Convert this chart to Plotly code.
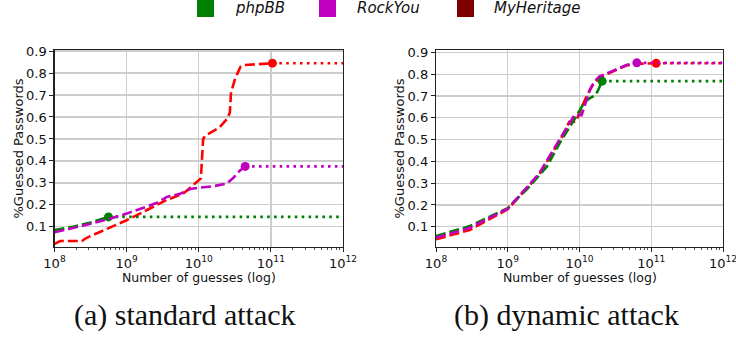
import plotly.graph_objects as go

# ---------------- data ----------------
# (a) standard attack
std_php_x = [1.0e8, 1.8e8, 3.2e8, 5.6e8]
std_php_y = [0.085, 0.100, 0.120, 0.145]
std_rock_x = [1.0e8, 1.8e8, 5.2e8, 1.0e9, 2.6e9, 3.6e9, 5.5e9, 7.6e9, 1.0e10, 1.6e10, 2.45e10, 3.0e10, 3.7e10, 4.4e10]
std_rock_y = [0.075, 0.094, 0.132, 0.160, 0.208, 0.236, 0.250, 0.272, 0.278, 0.285, 0.297, 0.322, 0.355, 0.375]
std_myh_x = [1.0e8, 1.2e8, 2.4e8, 2.8e8, 1.0e9, 3.6e9, 6.2e9, 9.3e9, 1.07e10, 1.15e10, 1.23e10, 1.95e10, 2.45e10,
             2.7e10, 2.8e10, 3.2e10, 3.8e10, 4.2e10, 1.05e11]
std_myh_y = [0.022, 0.035, 0.035, 0.050, 0.130, 0.222, 0.253, 0.300, 0.320, 0.500, 0.515, 0.553, 0.590,
             0.620, 0.710, 0.776, 0.829, 0.836, 0.845]

# (b) dynamic attack
dyn_php_x = [1.0e8, 2.95e8, 1.0e9, 1.9e9, 3.5e9, 5.6e9, 7.6e9, 9.5e9, 1.12e10, 1.18e10, 1.4e10, 1.6e10, 1.78e10, 2.07e10]
dyn_php_y = [0.057, 0.103, 0.185, 0.276, 0.375, 0.498, 0.567, 0.620, 0.658, 0.673, 0.690, 0.700, 0.720, 0.768]
dyn_rock_x = [1.0e8, 2.95e8, 1.0e9, 1.8e9, 2.75e9, 4.3e9, 5.9e9, 7.6e9, 8.5e9, 1.07e10, 1.2e10, 1.4e10, 1.6e10,
              1.9e10, 2.9e10, 4.5e10, 6.3e10]
dyn_rock_y = [0.050, 0.095, 0.183, 0.276, 0.345, 0.452, 0.528, 0.589, 0.612, 0.612, 0.660, 0.730, 0.765,
              0.790, 0.815, 0.842, 0.852]
dyn_myh_x = [1.0e8, 2.95e8, 1.0e9, 1.8e9, 2.75e9, 4.3e9, 5.9e9, 7.2e9, 8.9e9, 1.05e10, 1.26e10, 1.53e10,
             1.9e10, 2.9e10, 4.5e10, 6.3e10, 1.17e11]
dyn_myh_y = [0.042, 0.085, 0.180, 0.272, 0.340, 0.445, 0.522, 0.582, 0.582, 0.640, 0.700, 0.750,
             0.785, 0.812, 0.840, 0.848, 0.850]

x_end = 1.0e12
series_names = ["phpBB", "RockYou", "MyHeritage"]
legend_colors = ["#008000", "#bf00bf", "#800000"]
line_colors = {"phpBB": "#008000", "RockYou": "#bf00bf", "MyHeritage": "#ff0000"}
x_tick_vals = [1e8, 1e9, 1e10, 1e11, 1e12]
x_tick_text = ["10<sup>8</sup>", "10<sup>9</sup>", "10<sup>10</sup>", "10<sup>11</sup>", "10<sup>12</sup>"]
y_ticks = [0.1, 0.2, 0.3, 0.4, 0.5, 0.6, 0.7, 0.8, 0.9]
y_tick_text = ["0.1", "0.2", "0.3", "0.4", "0.5", "0.6", "0.7", "0.8", "0.9"]
captions = ["(a) standard attack", "(b) dynamic attack"]

# ---------------- figure ----------------
W, H = 736, 342

def px(x):
    return x / W

def py(y):
    return 1 - y / H

fig = go.Figure()

LW = 2.6
DASH = "10px,4px"
DOT = "2.6px,4.3px"

panels = [
    ("x", "y", [("MyHeritage", std_myh_x, std_myh_y), ("phpBB", std_php_x, std_php_y), ("RockYou", std_rock_x, std_rock_y)]),
    ("x2", "y2", [("MyHeritage", dyn_myh_x, dyn_myh_y), ("phpBB", dyn_php_x, dyn_php_y), ("RockYou", dyn_rock_x, dyn_rock_y)]),
]

for xa, ya, series in panels:
    for name, xs, ys in series:
        c = line_colors[name]
        fig.add_trace(go.Scatter(x=xs, y=ys, mode="lines", xaxis=xa, yaxis=ya,
                                 line=dict(color=c, width=LW, dash=DASH), showlegend=False, hoverinfo="skip"))
        fig.add_trace(go.Scatter(x=[xs[-1], x_end], y=[ys[-1], ys[-1]], mode="lines", xaxis=xa, yaxis=ya,
                                 line=dict(color=c, width=LW, dash=DOT), showlegend=False, hoverinfo="skip"))
        fig.add_trace(go.Scatter(x=[xs[-1]], y=[ys[-1]], mode="markers", xaxis=xa, yaxis=ya,
                                 marker=dict(color=c, size=9, line=dict(width=0)), showlegend=False, hoverinfo="skip"))

minor_vals = []
for e in range(8, 12):
    for m in range(2, 10):
        minor_vals.append(m * 10 ** e)

TICKFONT = dict(family="DejaVu Sans", size=13, color="#111")

def xaxis_cfg(domain, anchor):
    return dict(type="log", domain=domain, anchor=anchor, range=[8, 12],
                tickmode="array", tickvals=x_tick_vals, ticktext=x_tick_text, tickangle=0,
                ticklabeloverflow="allow",
                showgrid=True, gridcolor="#cccccc", gridwidth=1.3,
                showline=True, linecolor="#222", linewidth=1.2, mirror=True,
                ticks="outside", ticklen=4, tickwidth=1, tickcolor="#222",
                tickfont=TICKFONT, zeroline=False, automargin=False,
                minor=dict(tickmode="array", tickvals=minor_vals, ticks="outside", ticklen=2.2, tickwidth=0.8,
                           tickcolor="#222", showgrid=False))

def yaxis_cfg(domain, anchor, rng):
    return dict(domain=domain, anchor=anchor, range=rng, tickmode="array", tickvals=y_ticks,
                ticktext=y_tick_text, ticklabeloverflow="allow",
                showgrid=True, gridcolor="#cccccc", gridwidth=1.3,
                showline=True, linecolor="#222", linewidth=1.2, mirror=True,
                ticks="outside", ticklen=4, tickwidth=1, tickcolor="#222",
                tickfont=TICKFONT, zeroline=False, automargin=False)

ydom = [py(247), py(50)]
fig.update_layout(
    width=W, height=H, autosize=False,
    margin=dict(l=0, r=0, t=0, b=0, autoexpand=False),
    paper_bgcolor="white", plot_bgcolor="white",
    showlegend=False,
    xaxis=xaxis_cfg([px(54.5), px(343)], "y"),
    yaxis=yaxis_cfg(ydom, "x", [0.008, 0.905]),
    xaxis2=xaxis_cfg([px(436), px(723)], "y2"),
    yaxis2=yaxis_cfg(ydom, "x2", [0.007, 0.911]),
)

ann = []
ycen = py(148.5)
for xp in (18, 399):
    ann.append(dict(text="%Guessed Passwords", x=px(xp), y=ycen, xref="paper", yref="paper",
                    textangle=-90, showarrow=False, xanchor="center", yanchor="middle",
                    font=dict(family="DejaVu Sans", size=13, color="#111")))
for xp in (198.75, 580):
    ann.append(dict(text="Number of guesses (log)", x=px(xp), y=py(277), xref="paper", yref="paper",
                    showarrow=False, xanchor="center", yanchor="middle",
                    font=dict(family="DejaVu Sans", size=12.5, color="#111")))
for cap, xp in zip(captions, (185, 566)):
    ann.append(dict(text=cap, x=px(xp), y=py(315), xref="paper", yref="paper",
                    showarrow=False, xanchor="center", yanchor="middle",
                    font=dict(family="Liberation Serif", size=30, color="#111")))

# legend (manual, top)
shapes = []
sq_x = [197, 319, 457]
txt_x = [233, 355, 492]
for name, col, sx, tx in zip(series_names, legend_colors, sq_x, txt_x):
    shapes.append(dict(type="rect", xref="paper", yref="paper", x0=px(sx), x1=px(sx + 17),
                       y0=py(17), y1=1.0, fillcolor=col, line=dict(width=0)))
    ann.append(dict(text=f"<i>{name}</i>", x=px(tx), y=py(8), xref="paper", yref="paper",
                    showarrow=False, xanchor="left", yanchor="middle",
                    font=dict(family="DejaVu Sans", size=15, color="#111")))

fig.update_layout(annotations=ann, shapes=shapes)
# remove the default 8px page margin so the figure fills the window exactly
fig.write_html("out.html", config={"displayModeBar": False, "staticPlot": True},
               post_script="document.body.style.margin='0';document.body.style.overflow='hidden';")
